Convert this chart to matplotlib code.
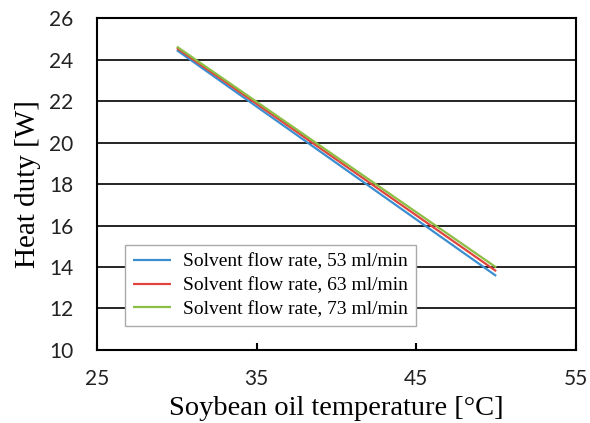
import matplotlib
matplotlib.use("Agg")
import matplotlib.pyplot as plt

# Heat duty vs soybean oil temperature for three solvent flow rates
temperature = [30, 50]
duty_53 = [24.45, 13.57]
duty_63 = [24.55, 13.80]
duty_73 = [24.62, 13.98]
series_labels = ["Solvent flow rate, 53 ml/min",
                 "Solvent flow rate, 63 ml/min",
                 "Solvent flow rate, 73 ml/min"]
x_ticks = [25, 35, 45, 55]
y_ticks = [10, 12, 14, 16, 18, 20, 22, 24, 26]

colors = ["#3B8ED0", "#E0443C", "#8CBD45"]
serif = ["Liberation Serif", "DejaVu Serif"]
tick_font = "Lato"

fig = plt.figure(figsize=(5.9, 4.23), dpi=100)
ax = fig.add_axes([0.1644, 0.1726, 0.8119, 0.7848])

for ys, c, lab in zip([duty_53, duty_63, duty_73], colors, series_labels):
    ax.plot(temperature, ys, color=c, lw=1.6, label=lab, solid_capstyle="butt")

ax.set_xlim(25, 55)
ax.set_ylim(10, 26)
ax.set_xticks(x_ticks)
ax.set_yticks(y_ticks)
ax.yaxis.grid(True, color="black", lw=1.2)
ax.set_axisbelow(True)
for s in ax.spines.values():
    s.set_color("black")
    s.set_linewidth(1.5)

ax.tick_params(axis="x", direction="in", length=5, width=1.5, pad=14)
ax.tick_params(axis="y", length=0, pad=17)
for lbl in ax.get_xticklabels() + ax.get_yticklabels():
    lbl.set_fontfamily(tick_font)
    lbl.set_fontsize(15)
    lbl.set_color("#222222")

ax.set_xlabel("Soybean oil temperature [°C]", family=serif, fontsize=20.5, labelpad=5)
ax.set_ylabel("Heat duty [W]", family=serif, fontsize=21, labelpad=6)

leg = ax.legend(loc="upper left", bbox_to_anchor=(0.058, 0.316),
                prop={"family": serif, "size": 14}, frameon=True,
                fancybox=False, edgecolor="#AAAAAA", framealpha=1,
                handlelength=2.0, handletextpad=0.6, borderpad=0.4,
                borderaxespad=0, labelspacing=0.32)
leg.get_frame().set_linewidth(1.0)

fig.savefig("out.png", dpi=100)
